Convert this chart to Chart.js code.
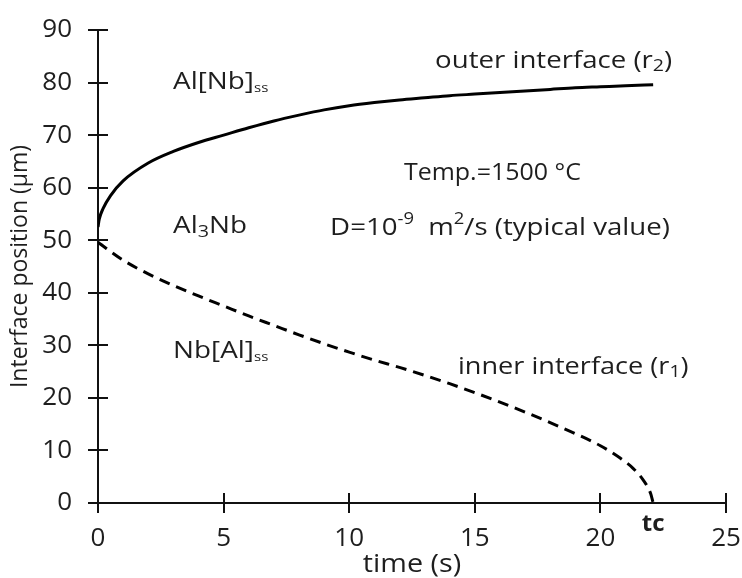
<!DOCTYPE html>
<html>
<head>
<meta charset="utf-8">
<script src="https://cdn.jsdelivr.net/npm/chart.js@4.4.1/dist/chart.umd.min.js"></script>
<style>
  html, body { margin: 0; padding: 0; background: #ffffff; }
  #wrap { width: 742px; height: 578px; }
</style>
</head>
<body>
<div id="wrap"><canvas id="c" width="742" height="578"></canvas></div>
<script>
// ---- data ----
const outerTime = [0, 0.05, 0.2, 0.5, 1, 2, 3, 4, 5, 6, 7, 8, 9, 10, 11, 12, 13, 14, 15, 16, 17, 18, 19, 20, 21, 22.1];
const outerPos  = [52.5, 54.0, 56.0, 58.5, 61.3, 64.7, 66.9, 68.6, 70, 71.4, 72.7, 73.8, 74.8, 75.6, 76.2, 76.7, 77.1, 77.5, 77.8, 78.1, 78.4, 78.7, 79, 79.2, 79.4, 79.6];
const innerTime = [0, 1, 2, 3, 4, 5, 6, 7, 8, 9, 10, 11, 12, 13, 14, 15, 16, 17, 18, 19, 20, 20.8, 21.3, 21.7, 22.0, 22.1];
const innerPos  = [49.6, 46.2, 43.6, 41.4, 39.4, 37.5, 35.6, 33.8, 32.0, 30.3, 28.7, 27.2, 25.8, 24.3, 22.7, 21.0, 19.2, 17.3, 15.3, 13.2, 10.9, 8.5, 6.6, 4.4, 1.8, 0];
const xTickValues = [0, 5, 10, 15, 20, 25];
const yTickValues = [0, 10, 20, 30, 40, 50, 60, 70, 80, 90];
const xTitle = 'time (s)';
const yTitle = 'Interface position (\u03BCm)';

const FONT = '"Open Sans", sans-serif';
const TXT = '#1e1e1e';

function zip(xs, ys) { return xs.map((x, i) => ({ x: x, y: ys[i] })); }

// annotation texts placed in data coordinates
// segs: [text, size px, baseline shift px]; sx: horizontal text stretch
const annotations = [
  { x: 2.99, y: 80.0, sx: 1.16, segs: [['Al[Nb]', 24, 0], ['ss', 13, 6]] },
  { x: 13.42, y: 84.0, sx: 1.15, segs: [['outer interface (r', 24, 0], ['2', 17, 5], [')', 24, 0]] },
  { x: 12.18, y: 62.7, sx: 1.04, segs: [['Temp.=1500 \u00B0C', 24, 0]] },
  { x: 2.99, y: 52.6, sx: 1.16, segs: [['Al', 24, 0], ['3', 17, 6], ['Nb', 24, 0]] },
  { x: 9.24, y: 52.3, sx: 1.15, segs: [['D=10', 24, 0], ['-9', 16, -9], ['  m', 24, 0], ['2', 16, -9], ['/s (typical value)', 24, 0]] },
  { x: 2.99, y: 28.8, sx: 1.16, segs: [['Nb[Al]', 24, 0], ['ss', 13, 6]] },
  { x: 14.33, y: 25.9, sx: 1.13, segs: [['inner interface (r', 24, 0], ['1', 17, 5], [')', 24, 0]] }
];
const tcLabel = { x: 22.1, text: 'tc' };

const overlay = {
  id: 'overlay',
  afterDraw(chart) {
    const ctx = chart.ctx;
    const xs = chart.scales.x, ys = chart.scales.y;
    const area = chart.chartArea;
    ctx.save();
    // inner half of the crossing tick marks
    ctx.strokeStyle = '#111';
    ctx.lineWidth = 2;
    ctx.beginPath();
    xTickValues.forEach(v => {
      const px = Math.round(xs.getPixelForValue(v));
      ctx.moveTo(px, area.bottom);
      ctx.lineTo(px, area.bottom - 10);
    });
    yTickValues.forEach(v => {
      const py = Math.round(ys.getPixelForValue(v));
      ctx.moveTo(area.left, py);
      ctx.lineTo(area.left + 10, py);
    });
    ctx.stroke();

    // annotations
    ctx.fillStyle = TXT;
    ctx.textBaseline = 'middle';
    ctx.textAlign = 'left';
    annotations.forEach(a => {
      const x0 = xs.getPixelForValue(a.x);
      const py = ys.getPixelForValue(a.y);
      ctx.save();
      ctx.translate(x0, py);
      ctx.scale(a.sx, 1);
      let px = 0;
      a.segs.forEach(s => {
        ctx.font = s[1] + 'px ' + FONT;
        ctx.fillText(s[0], px, s[2]);
        px += ctx.measureText(s[0]).width;
      });
      ctx.restore();
    });
    // tc label
    ctx.font = 'bold 24px ' + FONT;
    ctx.textAlign = 'center';
    ctx.fillText(tcLabel.text, xs.getPixelForValue(tcLabel.x), area.bottom + 21);
    // x axis title (slightly stretched like the reference)
    ctx.save();
    ctx.translate((area.left + area.right) / 2, chart.height - 13);
    ctx.scale(1.15, 1);
    ctx.font = '25px ' + FONT;
    ctx.fillText(xTitle, 0, 0);
    ctx.restore();
    ctx.restore();
  }
};

new Chart(document.getElementById('c'), {
  type: 'scatter',
  data: {
    datasets: [
      {
        label: 'outer interface (r2)',
        data: zip(outerTime, outerPos),
        showLine: true,
        borderColor: '#000',
        borderWidth: 3,
        pointRadius: 0,
        cubicInterpolationMode: 'monotone',
        fill: false
      },
      {
        label: 'inner interface (r1)',
        data: zip(innerTime, innerPos),
        showLine: true,
        borderColor: '#000',
        borderWidth: 3,
        borderDash: [11, 7],
        pointRadius: 0,
        cubicInterpolationMode: 'monotone',
        fill: false
      }
    ]
  },
  options: {
    responsive: false,
    animation: false,
    layout: { padding: { top: 30, right: 16, left: 0, bottom: 0 } },
    plugins: { legend: { display: false }, tooltip: { enabled: false } },
    scales: {
      x: {
        type: 'linear',
        min: 0, max: 25,
        afterBuildTicks(scale) { scale.ticks = xTickValues.map(v => ({ value: v })); },
        afterFit(scale) { scale.height = 75; scale.paddingRight = 0; scale.paddingLeft = 0; },
        grid: { drawOnChartArea: false, drawTicks: true, tickLength: 10, color: '#111', lineWidth: 2 },
        border: { display: true, color: '#111', width: 2 },
        ticks: { color: TXT, font: { family: FONT, size: 26 }, padding: 10, maxRotation: 0 },
        title: { display: false, text: xTitle }
      },
      y: {
        type: 'linear',
        min: 0, max: 90,
        afterBuildTicks(scale) { scale.ticks = yTickValues.map(v => ({ value: v })); },
        afterFit(scale) { scale.width = 98; scale.paddingTop = 0; scale.paddingBottom = 0; },
        grid: { drawOnChartArea: false, drawTicks: true, tickLength: 10, color: '#111', lineWidth: 2 },
        border: { display: true, color: '#111', width: 2 },
        ticks: { color: TXT, font: { family: FONT, size: 26 }, padding: 16 },
        title: { display: true, text: yTitle, color: TXT, font: { family: FONT, size: 23 }, padding: { top: 7, bottom: 0 } }
      }
    }
  },
  plugins: [overlay]
});
</script>
</body>
</html>
